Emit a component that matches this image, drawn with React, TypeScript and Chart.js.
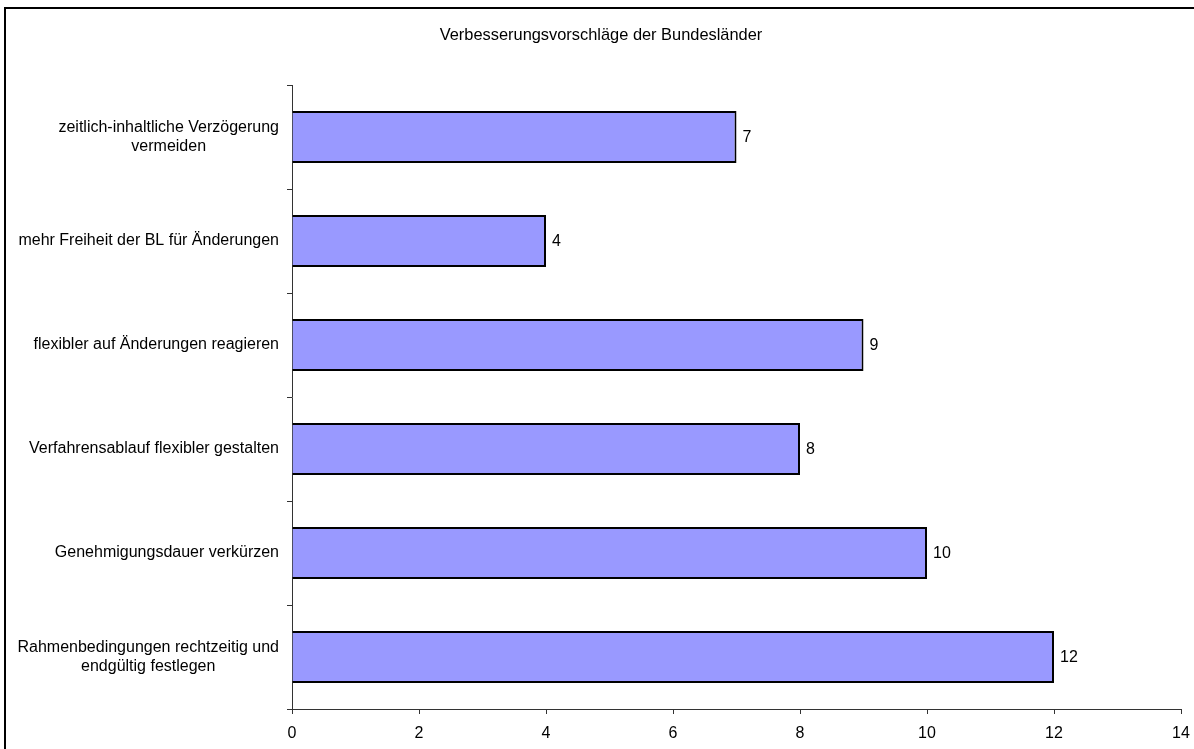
import React, { useEffect, useRef } from "react";
import { Chart, registerables } from "chart.js";

Chart.register(...registerables);

const TITLE = "Verbesserungsvorschläge der Bundesländer";
const categories: string[][] = [
  ["zeitlich-inhaltliche Verzögerung", "vermeiden"],
  ["mehr Freiheit der BL für Änderungen"],
  ["flexibler auf Änderungen reagieren"],
  ["Verfahrensablauf flexibler gestalten"],
  ["Genehmigungsdauer verkürzen"],
  ["Rahmenbedingungen rechtzeitig und", "endgültig festlegen"],
];
const values: number[] = [7, 4, 9, 8, 10, 12];
const xMin = 0;
const xMax = 14;
const xStep = 2;

const FONT = "'Liberation Sans', Arial, sans-serif";

export default function App() {
  const ref = useRef<HTMLCanvasElement | null>(null);

  useEffect(() => {
    document.body.style.margin = "0";
    const canvas = ref.current;
    if (!canvas) return;

    const decor = {
      id: "decor",
      afterDraw(chart: any) {
        const ctx = chart.ctx;
        const ys = chart.scales.y;
        const xs = chart.scales.x;
        ctx.save();
        // frame
        ctx.strokeStyle = "#000";
        ctx.lineWidth = 2;
        ctx.strokeRect(5, 8, 1200, 760);
        // title
        ctx.fillStyle = "#000";
        ctx.font = `16.4px ${FONT}`;
        ctx.textAlign = "center";
        ctx.textBaseline = "middle";
        ctx.fillText(TITLE, 601, 35);
        ctx.font = `16px ${FONT}`;
        // category labels: block right-aligned, lines centered within block
        const rightEdge = ys.right - 13;
        const lh = 18.5;
        categories.forEach((lines, i) => {
          const cy = ys.getPixelForValue(i);
          let w = 0;
          lines.forEach((l) => (w = Math.max(w, ctx.measureText(l).width)));
          const cx = rightEdge - w / 2;
          const y0 = cy - ((lines.length - 1) * lh) / 2;
          lines.forEach((l, k) => ctx.fillText(l, cx, y0 + k * lh));
        });
        // value labels
        ctx.textAlign = "left";
        const meta = chart.getDatasetMeta(0);
        meta.data.forEach((bar: any, i: number) => {
          ctx.fillText(String(values[i]), xs.getPixelForValue(values[i]) + 6, bar.y + 1);
        });
        ctx.restore();
      },
    };

    const chart = new Chart(canvas, {
      type: "bar",
      data: {
        labels: categories.map((c) => c.join(" ")),
        datasets: [
          {
            data: values,
            backgroundColor: "#9999FF",
            borderColor: "#000",
            borderWidth: 2,
            barPercentage: 0.5,
            categoryPercentage: 1,
          },
        ],
      },
      options: {
        indexAxis: "y",
        animation: false,
        responsive: false,
        maintainAspectRatio: false,
        layout: { padding: { left: 0, top: 85, right: 13, bottom: 0 } },
        plugins: { legend: { display: false }, tooltip: { enabled: false }, title: { display: false } },
        scales: {
          x: {
            min: xMin,
            max: xMax,
            ticks: { stepSize: xStep, color: "#000", font: { size: 16, family: FONT }, padding: 10, maxRotation: 0 },
            grid: { drawOnChartArea: false, tickLength: 5, color: "#333", tickColor: "#333" },
            border: { color: "#333", width: 1 },
            afterFit: (s: any) => {
              s.height = 40;
              s.paddingLeft = 0;
              s.paddingRight = 0;
              s.paddingTop = 0;
              s.paddingBottom = 0;
            },
          },
          y: {
            ticks: { display: false },
            grid: { offset: true, drawOnChartArea: false, tickLength: 5, color: "#333", tickColor: "#333" },
            border: { color: "#333", width: 1 },
            afterFit: (s: any) => {
              s.width = 292;
              s.paddingTop = 0;
              s.paddingBottom = 0;
            },
          },
        },
      },
      plugins: [decor],
    });
    return () => chart.destroy();
  }, []);

  return (
    <div style={{ position: "fixed", left: 0, top: 0, width: 1194, height: 749, background: "#fff" }}>
      <canvas ref={ref} width={1194} height={749} style={{ display: "block" }} />
    </div>
  );
}
